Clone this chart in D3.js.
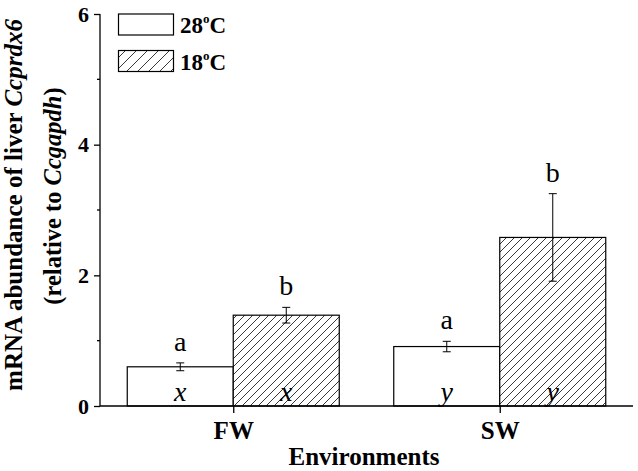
<!DOCTYPE html>
<html><head><meta charset="utf-8">
<script src="https://cdn.jsdelivr.net/npm/d3@7"></script>
</head><body style="margin:0;background:#fff">
<svg id="c" width="638" height="471" font-family="Liberation Serif"></svg>
<script>
const categories = ["FW", "SW"];
const seriesNames = ["28", "18"];
const values28 = [0.60, 0.91];
const errors28 = [0.06, 0.08];
const values18 = [1.39, 2.58];
const errors18 = [0.12, 0.67];
const letters28 = ["a", "a"];
const letters18 = ["b", "b"];
const groupLetters = ["x", "y"];
const yTicks = [0, 2, 4, 6];
const yMinor = [1, 3, 5];

const FONT = "Liberation Serif";
const svg = d3.select("#c");
const defs = svg.append("defs");
function hatch(id, sp){
  const p = defs.append("pattern").attr("id", id).attr("patternUnits","userSpaceOnUse")
    .attr("width", sp).attr("height", sp);
  p.append("rect").attr("width", sp).attr("height", sp).attr("fill","#fff");
  p.append("path").attr("d",`M0,${sp} L${sp},0 M${-sp/2},${sp/2} L${sp/2},${-sp/2} M${sp/2},${sp*1.5} L${sp*1.5},${sp/2}`)
    .attr("stroke","#222").attr("stroke-width",0.9);
}
hatch("h1", 8);
hatch("h2", 11);

const x = d3.scalePoint().domain(categories).range([100, 633]).padding(0.5);
const y = d3.scaleLinear().domain([0, 6]).range([406, 14]);
const barW = 106;

const series = [
  {vals: values28, errs: errors28, letters: letters28, fill: "#fff", off: -1},
  {vals: values18, errs: errors18, letters: letters18, fill: "url(#h1)", off: 0}
];

series.forEach(s => {
  categories.forEach((c, i) => {
    const x0 = x(c) + s.off * barW;
    svg.append("rect").attr("x", x0).attr("y", y(s.vals[i]))
      .attr("width", barW).attr("height", y(0) - y(s.vals[i]))
      .attr("fill", s.fill).attr("stroke", "#000").attr("stroke-width", 1.2);
    const cx = x0 + barW / 2;
    const hi = y(s.vals[i] + s.errs[i]), lo = y(s.vals[i] - s.errs[i]);
    svg.append("path").attr("d", `M${cx},${hi}V${lo}M${cx-4},${hi}H${cx+4}M${cx-4},${lo}H${cx+4}`)
      .attr("stroke", "#000").attr("stroke-width", 1).attr("fill","none");
    svg.append("text").attr("x", cx).attr("y", hi - 12).attr("text-anchor","middle")
      .attr("font-family", FONT).attr("font-size", 28).text(s.letters[i]);
    svg.append("text").attr("x", cx).attr("y", 401).attr("text-anchor","middle")
      .attr("font-family", FONT).attr("font-size", 28).attr("font-style","italic").text(groupLetters[i]);
  });
});

// Y axis
const yAxis = svg.append("g").attr("transform","translate(100,0)")
  .call(d3.axisLeft(y).tickValues(yTicks).tickFormat(d3.format("d")).tickSize(6).tickPadding(5));
yAxis.attr("font-family", FONT);
yAxis.selectAll("text").attr("font-size", 22).attr("font-weight","bold").attr("fill","#000").attr("font-family", FONT);
yAxis.selectAll("line").attr("stroke-width", 1.3);
yAxis.select(".domain").attr("stroke-width", 1.3).attr("d", "M0,406V14");
svg.append("g").attr("transform","translate(100,0)").selectAll("line").data(yMinor).join("line")
  .attr("x1", -3).attr("x2", 0).attr("y1", d => y(d)).attr("y2", d => y(d))
  .attr("stroke","#000").attr("stroke-width",1.3);

// X axis
const xAxis = svg.append("g").attr("transform","translate(0,406)")
  .call(d3.axisBottom(x).tickSize(7).tickPadding(8));
xAxis.attr("font-family", FONT);
xAxis.select(".domain").attr("stroke-width", 1.3).attr("d", "M100,0H633");
xAxis.selectAll("line").attr("stroke-width", 1.3);
xAxis.selectAll("text").attr("font-size", 25).attr("font-weight","bold").attr("fill","#000").attr("font-family", FONT);

svg.append("text").attr("x", 364).attr("y", 465).attr("text-anchor","middle").attr("font-family", FONT)
  .attr("font-size", 25).attr("font-weight","bold").text("Environments");

// Y label
const yl1 = svg.append("text").attr("transform","translate(22,205) rotate(-90)").attr("text-anchor","middle")
  .attr("font-family", FONT).attr("font-size", 25).attr("font-weight","bold");
yl1.append("tspan").text("mRNA abundance of liver ");
yl1.append("tspan").attr("font-style","italic").text("Ccprdx6");
const yl2 = svg.append("text").attr("transform","translate(61,196) rotate(-90)").attr("text-anchor","middle")
  .attr("font-family", FONT).attr("font-size", 24.5).attr("font-weight","bold");
yl2.append("tspan").text("(relative to ");
yl2.append("tspan").attr("font-style","italic").text("Ccgapdh");
yl2.append("tspan").text(")");

// Legend
const legend = [{name: seriesNames[0], fill: "#fff"}, {name: seriesNames[1], fill: "url(#h2)"}];
legend.forEach((l, i) => {
  const ly = 14 + i * 36.5;
  svg.append("rect").attr("x", 118.5).attr("y", ly).attr("width", 55).attr("height", 21)
    .attr("fill", l.fill).attr("stroke","#000").attr("stroke-width",1.2);
  const t = svg.append("text").attr("x", 180).attr("y", ly + 19).attr("font-family", FONT)
    .attr("font-size", 23).attr("font-weight","bold");
  t.append("tspan").text(l.name);
  t.append("tspan").attr("dy", -10).attr("font-size", 13).text("o");
  t.append("tspan").attr("dy", 10).text("C");
});
</script>
</body></html>
